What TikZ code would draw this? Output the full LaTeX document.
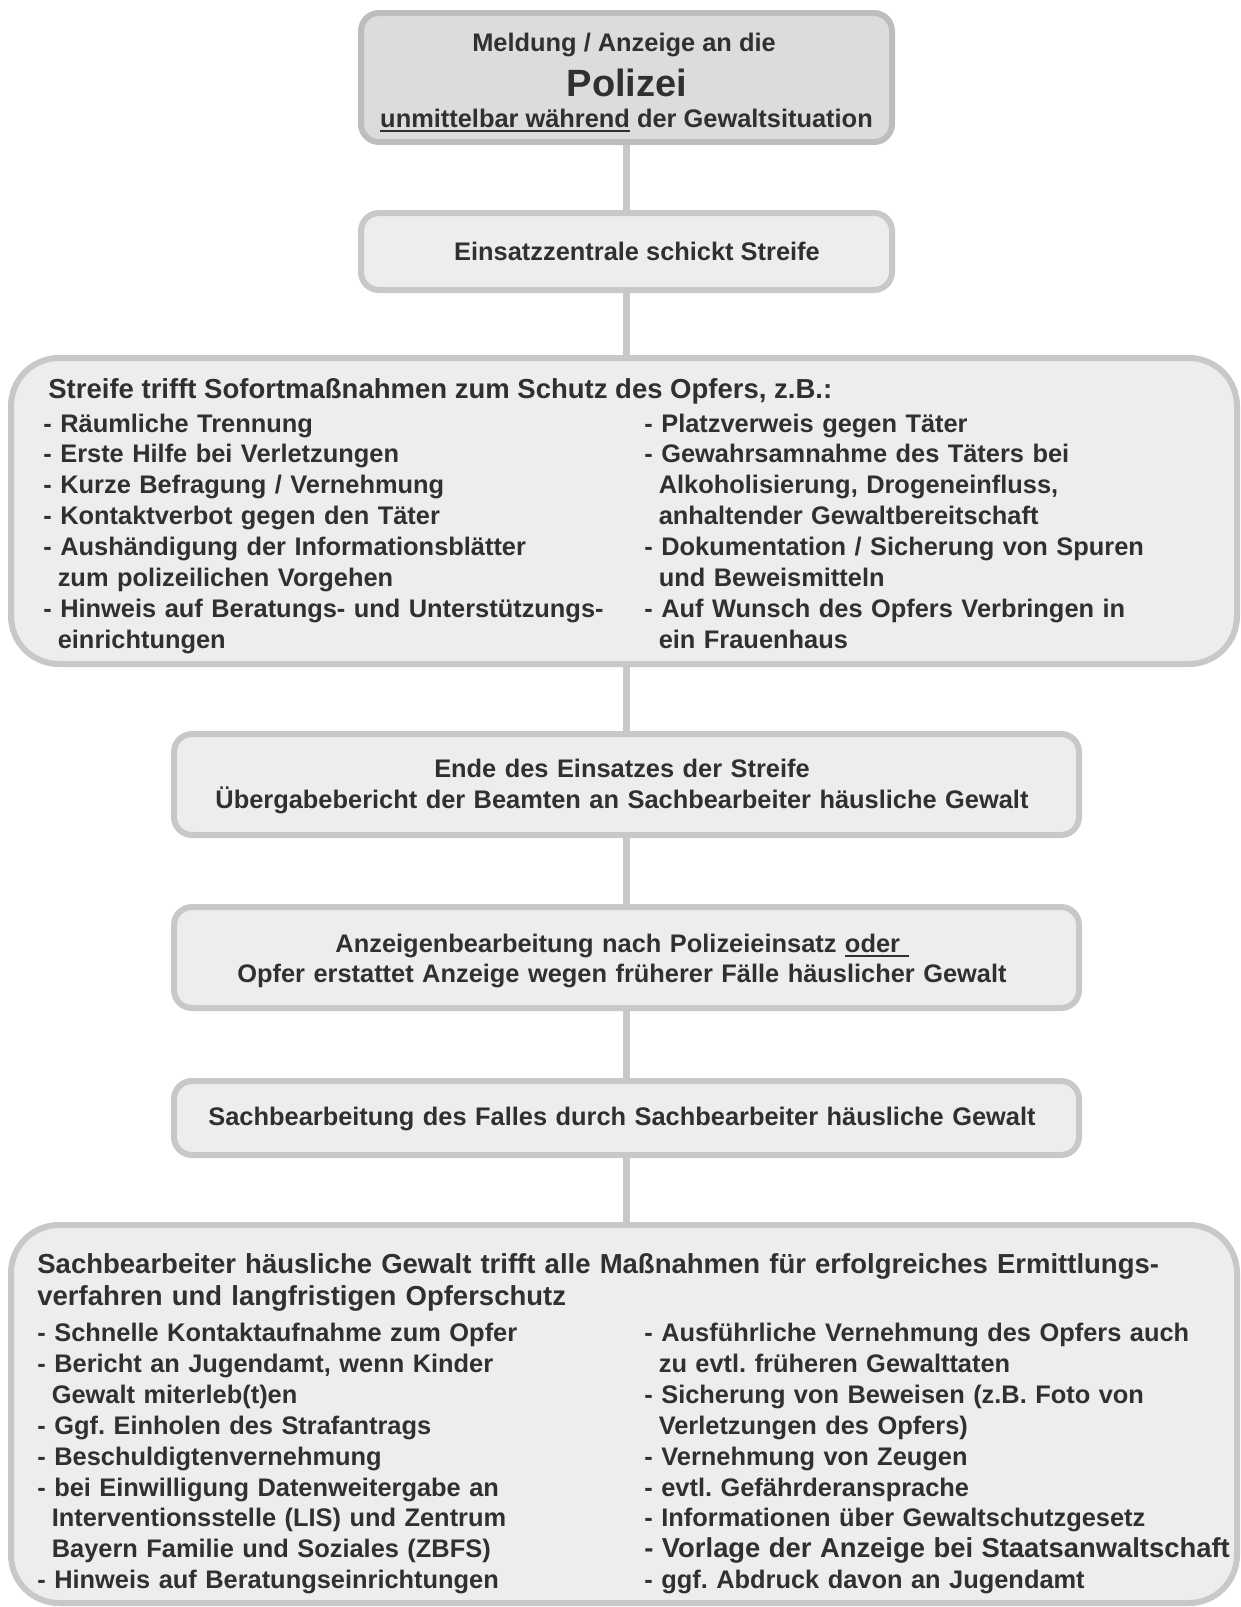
\documentclass[tikz,border=0pt]{standalone}
\usepackage{fontspec}
\setmainfont{Liberation Sans}
\frenchspacing
\definecolor{ink}{HTML}{303030}
\definecolor{rim}{HTML}{C8C8C8}
\definecolor{rimdark}{HTML}{BDBDBD}
\definecolor{pane}{HTML}{EDEDED}
\definecolor{panedark}{HTML}{DCDCDC}
% underline sitting just below the baseline
\newcommand\undl[1]{\setbox0\hbox{#1}\rlap{\rule[-2.6pt]{\wd0}{1pt}}\box0\relax}
\newcommand\hang{\hspace*{7.2pt}}
\tikzset{
  box/.style={draw=rim, fill=pane, line width=3pt, rounded corners=9pt, inner sep=0pt},
  bigbox/.style={box, rounded corners=24pt},
  link/.style={draw=rim, line width=3.5pt},
  txt/.style={text=ink, inner sep=0pt, font=\bfseries\fontsize{12.7}{15.45}\selectfont},
  head/.style={txt, font=\bfseries\fontsize{13.75}{16}\selectfont},
  listcol/.style={txt, anchor=base west, text width=300pt, align=left},
  midtext/.style={txt, anchor=base, text width=450pt, align=center},
}
\begin{document}
\begin{tikzpicture}[x=0.5pt, y=-0.5pt]
\useasboundingbox (0,0) rectangle (1241,1607);

% boxes
\node[box, draw=rimdark, fill=panedark, minimum width=265.5pt, minimum height=64.5pt] (b1) at (626.5,77.5) {};
\node[box, minimum width=265.5pt, minimum height=38.5pt] (b2) at (626.5,251.5) {};
\node[bigbox, minimum width=613pt, minimum height=153pt] (b3) at (624,511) {};
\node[box, minimum width=452.5pt, minimum height=50.5pt] (b4) at (626.5,784.5) {};
\node[box, minimum width=452.5pt, minimum height=50.5pt] (b5) at (626.5,957.5) {};
\node[box, minimum width=452.5pt, minimum height=37pt] (b6) at (626.5,1118) {};
\node[bigbox, minimum width=613pt, minimum height=189pt] (b7) at (624,1414) {};

% connectors
\draw[link] (b1.south) -- (b2.north);
\draw[link] (b2.south) -- (b2.south |- b3.north);
\draw[link] (b4.north |- b3.south) -- (b4.north);
\draw[link] (b4.south) -- (b5.north);
\draw[link] (b5.south) -- (b6.north);
\draw[link] (b6.south) -- (b6.south |- b7.north);

% box 1
\node[txt, anchor=base] (t1a) at (624,51) {Meldung / Anzeige an die};
\node[txt, font=\bfseries\fontsize{19}{22}\selectfont, anchor=base] (t1b) at (627,96.5) {Polizei};
\node[txt, anchor=base] (t1c) at (626.5,127) {\undl{unmittelbar während} der Gewaltsituation};

% box 2
\node[txt, anchor=base] (t2) at (637,260) {Einsatzzentrale schickt Streife};

% box 3
\node[head, anchor=base west] (t3h) at (48,398.5) {Streife trifft Sofortmaßnahmen zum Schutz des Opfers, z.B.:};
\node[listcol] (t3l) at (43,432) {- Räumliche Trennung\\
- Erste Hilfe bei Verletzungen\\
- Kurze Befragung / Vernehmung\\
- Kontaktverbot gegen den Täter\\
- Aushändigung der Informationsblätter\\
\hang zum polizeilichen Vorgehen\\
- Hinweis auf Beratungs- und Unterstützungs-\\
\hang einrichtungen};
\node[listcol] (t3r) at (644,432) {- Platzverweis gegen Täter\\
- Gewahrsamnahme des Täters bei\\
\hang Alkoholisierung, Drogeneinfluss,\\
\hang anhaltender Gewaltbereitschaft\\
- Dokumentation / Sicherung von Spuren\\
\hang und Beweismitteln\\
- Auf Wunsch des Opfers Verbringen in\\
\hang ein Frauenhaus};

% boxes 4 to 6
\node[midtext] (t4) at (622,777.5) {Ende des Einsatzes der Streife\\
Übergabebericht der Beamten an Sachbearbeiter häusliche Gewalt};
\node[midtext] (t5) at (622,952) {Anzeigenbearbeitung nach Polizeieinsatz \undl{oder\ }\\
Opfer erstattet Anzeige wegen früherer Fälle häuslicher Gewalt};
\node[midtext] (t6) at (622,1125) {Sachbearbeitung des Falles durch Sachbearbeiter häusliche Gewalt};

% box 7
\node[head, anchor=base west, text width=600pt, align=left] (t7h) at (37,1273) {Sachbearbeiter häusliche Gewalt trifft alle Maßnahmen für erfolgreiches Ermittlungs-\\
verfahren und langfristigen Opferschutz};
\node[listcol] (t7l) at (37,1341.5) {- Schnelle Kontaktaufnahme zum Opfer\\
- Bericht an Jugendamt, wenn Kinder\\
\hang Gewalt miterleb(t)en\\
- Ggf. Einholen des Strafantrags\\
- Beschuldigtenvernehmung\\
- bei Einwilligung Datenweitergabe an\\
\hang Interventionsstelle (LIS) und Zentrum\\
\hang Bayern Familie und Soziales (ZBFS)\\
- Hinweis auf Beratungseinrichtungen};
\node[listcol] (t7r) at (644,1341.5) {- Ausführliche Vernehmung des Opfers auch\\
\hang zu evtl. früheren Gewalttaten\\
- Sicherung von Beweisen (z.B. Foto von\\
\hang Verletzungen des Opfers)\\
- Vernehmung von Zeugen\\
- evtl. Gefährderansprache\\
- Informationen über Gewaltschutzgesetz\\
{\fontsize{13.7}{15.45}\selectfont - Vorlage der Anzeige bei Staatsanwaltschaft}\\
- ggf. Abdruck davon an Jugendamt};
\end{tikzpicture}
\end{document}
